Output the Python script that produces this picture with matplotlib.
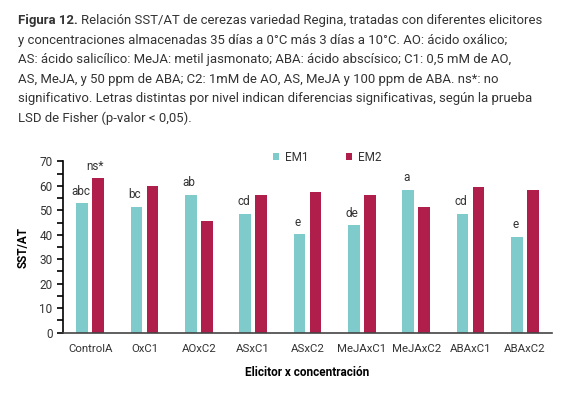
import matplotlib
matplotlib.use("Agg")
import matplotlib.pyplot as plt
import numpy as np
from matplotlib.ticker import MultipleLocator

plt.rcParams['font.family'] = ['Roboto', 'DejaVu Sans']

categorias = ["ControlA", "OxC1", "AOxC2", "ASxC1", "ASxC2",
              "MeJAxC1", "MeJAxC2", "ABAxC1", "ABAxC2"]
em1 = [52.8, 51.3, 56.4, 48.6, 40.2, 43.9, 58.4, 48.6, 39.1]
em2 = [63.0, 59.9, 45.5, 56.4, 57.6, 56.4, 51.2, 59.5, 58.4]
letras_em1 = ["abc", "bc", "ab", "cd", "e", "de", "a", "cd", "e"]
letra_em2_control = "ns*"

titulo_neg = "Figura 12."
titulo_1 = "Relación SST/AT de cerezas variedad Regina, tratadas con diferentes elicitores"
titulo = [
    "y concentraciones almacenadas 35 días a 0°C más 3 días a 10°C. AO: ácido oxálico;",
    "AS: ácido salicílico: MeJA: metil jasmonato; ABA: ácido abscísico; C1: 0,5 mM de AO,",
    "AS, MeJA, y 50 ppm de ABA; C2: 1mM de AO, AS, MeJA y 100 ppm de ABA. ns*: no",
    "significativo. Letras distintas por nivel indican diferencias significativas, según la prueba",
    "LSD de Fisher (p-valor < 0,05).",
]

c1 = "#7fcaca"
c2 = "#b01e4b"
txt = "#333333"

fig = plt.figure(figsize=(5.7, 3.95), dpi=100)
ax = fig.add_axes([63/570, 1-332.7/395, 489/570, 171.4/395])

x = np.arange(len(categorias))
w = 0.22
off = 0.147
ax.bar(x - off, em1, w, color=c1, label="EM1")
ax.bar(x + off, em2, w, color=c2, label="EM2")

for i, (v, l) in enumerate(zip(em1, letras_em1)):
    ax.text(x[i] - off - 0.03, v + 2.3, l, ha="center", va="bottom",
            fontsize=8.5, color=txt)
ax.text(x[0] + off - 0.05, em2[0] + 2.3, letra_em2_control, ha="center",
        va="bottom", fontsize=8.5, color=txt)

ax.set_xlim(-0.5, len(categorias) - 0.5)
ax.set_ylim(0, 70)
ax.yaxis.set_major_locator(MultipleLocator(10))
ax.yaxis.set_minor_locator(MultipleLocator(5))
ax.set_xticks(x)
ax.set_xticklabels(categorias, fontsize=8.2, color=txt)
ax.tick_params(axis="y", labelsize=8.5, labelcolor=txt, length=4, width=1.2)
ax.tick_params(axis="y", which="minor", length=4, width=1.2)
ax.tick_params(axis="x", length=0, pad=8)
for s in ["top", "right"]:
    ax.spines[s].set_visible(False)
ax.spines["left"].set_linewidth(1.2)
ax.spines["bottom"].set_linewidth(1.2)
ax.spines["bottom"].set_color("#444444")

ax.set_ylabel("SST/AT", fontsize=8.5, fontweight="bold", labelpad=7)
ax.set_xlabel("Elicitor x concentración", fontsize=8.5, fontweight="bold",
              labelpad=9)

ax.legend(loc="center", bbox_to_anchor=(0.54, 1.025), ncol=2,
          frameon=False, fontsize=8.5, handlelength=0.55, handleheight=0.55,
          columnspacing=3.2, handletextpad=0.45, labelcolor=txt)

# titulo: ajustar tamano para que la primera linea ocupe 18..540 px
fs = 10.0
t0 = fig.text(18/570, 1-24/395, titulo_neg, fontsize=fs, fontweight="bold",
              color=txt, va="baseline")
fig.canvas.draw()
bb = t0.get_window_extent()
t1 = fig.text((bb.x1 + 3)/570, 1-24/395, titulo_1, fontsize=fs, color=txt,
              va="baseline")
fig.canvas.draw()
ancho = t1.get_window_extent().x1 - 18
fs = fs * 522 / ancho
t0.set_fontsize(fs)
fig.canvas.draw()
bb = t0.get_window_extent()
t1.set_fontsize(fs)
t1.set_x((bb.x1 + 3)/570)
for k, linea in enumerate(titulo):
    fig.text(18/570, 1-(24 + 19.6*(k+1))/395, linea, fontsize=fs, color=txt,
             va="baseline")

fig.savefig("out.png", dpi=100)
